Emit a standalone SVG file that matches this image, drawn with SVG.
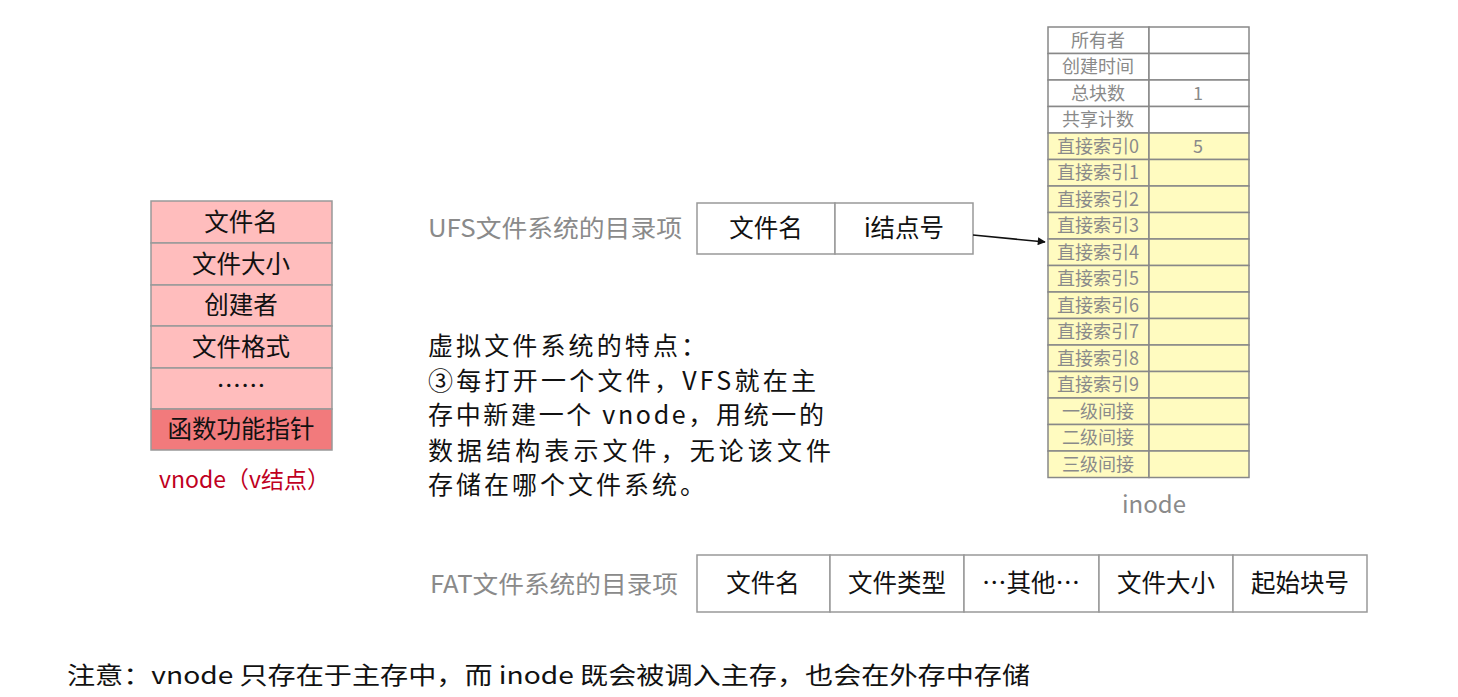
<svg xmlns="http://www.w3.org/2000/svg" width="1458" height="697" viewBox="0 0 1458 697">
<style>
.f{font-family:"Noto Sans CJK SC","Liberation Sans",sans-serif}
.v{fill:#ffbdbd;stroke:#999;stroke-width:1.5}
.vt{font-size:24.5px;fill:#111;text-anchor:middle}
.iw{fill:#fff;stroke:#888;stroke-width:1.5}
.iy{fill:#fffbc0;stroke:#888;stroke-width:1.5}
.it{font-size:18px;fill:#8a8a8a;text-anchor:middle}
.b{fill:#fff;stroke:#999;stroke-width:1.5}
.bt{font-size:24.5px;fill:#111;text-anchor:middle}
.lab{font-size:24px;fill:#8a8a8a}
.tx{font-size:25px;fill:#111}
</style>
<defs>
<marker id="ah" viewBox="0 0 10 10" refX="9" refY="5" markerWidth="10" markerHeight="8" markerUnits="userSpaceOnUse" orient="auto"><path d="M0,0L10,5L0,10z" fill="#111"/></marker>
</defs>
<rect width="1458" height="697" fill="#fff"/>
<g id="vnode" class="f">
<rect class="v" x="151" y="201" width="181" height="42"/>
<rect class="v" x="151" y="243" width="181" height="42"/>
<rect class="v" x="151" y="285" width="181" height="41"/>
<rect class="v" x="151" y="326" width="181" height="42"/>
<rect class="v" x="151" y="368" width="181" height="41"/>
<rect x="151" y="409" width="181" height="41" fill="#f27a7c" stroke="#999" stroke-width="1.5"/>
<text class="vt" x="241" y="231">文件名</text>
<text class="vt" x="241" y="273">文件大小</text>
<text class="vt" x="241" y="314">创建者</text>
<text class="vt" x="241" y="356">文件格式</text>
<text class="vt" x="241" y="395">……</text>
<text class="vt" x="241" y="438">函数功能指针</text>
<text x="159" y="488" font-size="23" fill="#c0001e" textLength="171" lengthAdjust="spacingAndGlyphs">vnode（v结点）</text>
</g>
<g id="inode" class="f">
<rect class="iw" x="1048" y="27" width="101" height="26.5"/><rect class="iw" x="1149" y="27" width="100" height="26.5"/>
<rect class="iw" x="1048" y="53.5" width="101" height="26.5"/><rect class="iw" x="1149" y="53.5" width="100" height="26.5"/>
<rect class="iw" x="1048" y="80" width="101" height="26.5"/><rect class="iw" x="1149" y="80" width="100" height="26.5"/>
<rect class="iw" x="1048" y="106.5" width="101" height="26.5"/><rect class="iw" x="1149" y="106.5" width="100" height="26.5"/>
<rect class="iy" x="1048" y="133" width="101" height="26.5"/><rect class="iy" x="1149" y="133" width="100" height="26.5"/>
<rect class="iy" x="1048" y="159.5" width="101" height="26.5"/><rect class="iy" x="1149" y="159.5" width="100" height="26.5"/>
<rect class="iy" x="1048" y="186" width="101" height="26.5"/><rect class="iy" x="1149" y="186" width="100" height="26.5"/>
<rect class="iy" x="1048" y="212.5" width="101" height="26.5"/><rect class="iy" x="1149" y="212.5" width="100" height="26.5"/>
<rect class="iy" x="1048" y="239" width="101" height="26.5"/><rect class="iy" x="1149" y="239" width="100" height="26.5"/>
<rect class="iy" x="1048" y="265.5" width="101" height="26.5"/><rect class="iy" x="1149" y="265.5" width="100" height="26.5"/>
<rect class="iy" x="1048" y="292" width="101" height="26.5"/><rect class="iy" x="1149" y="292" width="100" height="26.5"/>
<rect class="iy" x="1048" y="318.5" width="101" height="26.5"/><rect class="iy" x="1149" y="318.5" width="100" height="26.5"/>
<rect class="iy" x="1048" y="345" width="101" height="26.5"/><rect class="iy" x="1149" y="345" width="100" height="26.5"/>
<rect class="iy" x="1048" y="371.5" width="101" height="26.5"/><rect class="iy" x="1149" y="371.5" width="100" height="26.5"/>
<rect class="iy" x="1048" y="398" width="101" height="26.5"/><rect class="iy" x="1149" y="398" width="100" height="26.5"/>
<rect class="iy" x="1048" y="424.5" width="101" height="26.5"/><rect class="iy" x="1149" y="424.5" width="100" height="26.5"/>
<rect class="iy" x="1048" y="451" width="101" height="26.5"/><rect class="iy" x="1149" y="451" width="100" height="26.5"/>
<text class="it" x="1098" y="46.5">所有者</text>
<text class="it" x="1098" y="73">创建时间</text>
<text class="it" x="1098" y="99.5">总块数</text>
<text class="it" x="1198" y="99.5">1</text>
<text class="it" x="1098" y="126">共享计数</text>
<text class="it" x="1098" y="152.5">直接索引0</text>
<text class="it" x="1198" y="152.5">5</text>
<text class="it" x="1098" y="179">直接索引1</text>
<text class="it" x="1098" y="205.5">直接索引2</text>
<text class="it" x="1098" y="232">直接索引3</text>
<text class="it" x="1098" y="258.5">直接索引4</text>
<text class="it" x="1098" y="285">直接索引5</text>
<text class="it" x="1098" y="311.5">直接索引6</text>
<text class="it" x="1098" y="338">直接索引7</text>
<text class="it" x="1098" y="364.5">直接索引8</text>
<text class="it" x="1098" y="391">直接索引9</text>
<text class="it" x="1098" y="417.5">一级间接</text>
<text class="it" x="1098" y="444">二级间接</text>
<text class="it" x="1098" y="470.5">三级间接</text>
<text x="1154" y="513" font-size="24" fill="#8a8a8a" text-anchor="middle">inode</text>
</g>
<g id="ufs" class="f">
<text class="lab" x="428" y="237" textLength="254" lengthAdjust="spacingAndGlyphs">UFS文件系统的目录项</text>
<rect class="b" x="697" y="203" width="138" height="51"/>
<rect class="b" x="835" y="203" width="138" height="51"/>
<text class="bt" x="766" y="237">文件名</text>
<text class="bt" x="904" y="237">i结点号</text>
</g>
<g id="fat" class="f">
<text class="lab" x="430" y="593" textLength="248" lengthAdjust="spacingAndGlyphs">FAT文件系统的目录项</text>
<rect class="b" x="697" y="555" width="133" height="57"/>
<rect class="b" x="830" y="555" width="134" height="57"/>
<rect class="b" x="964" y="555" width="135" height="57"/>
<rect class="b" x="1099" y="555" width="134" height="57"/>
<rect class="b" x="1233" y="555" width="134" height="57"/>
<text class="bt" x="763" y="592">文件名</text>
<text class="bt" x="897" y="592">文件类型</text>
<text class="bt" x="1031" y="592">…其他…</text>
<text class="bt" x="1166" y="592">文件大小</text>
<text class="bt" x="1300" y="592">起始块号</text>
</g>
<g id="desc" class="f">
<text class="tx" x="428" y="355" textLength="278" lengthAdjust="spacing">虚拟文件系统的特点：</text>
<text class="tx" x="428" y="390" textLength="388" lengthAdjust="spacing">③每打开一个文件，VFS就在主</text>
<text class="tx" x="428" y="424" textLength="396" lengthAdjust="spacing">存中新建一个 vnode，用统一的</text>
<text class="tx" x="428" y="460" textLength="403" lengthAdjust="spacing">数据结构表示文件，无论该文件</text>
<text class="tx" x="428" y="494" textLength="277" lengthAdjust="spacing">存储在哪个文件系统。</text>
</g>
<g id="note" class="f">
<text x="67" y="684" font-size="24" fill="#111" textLength="963" lengthAdjust="spacingAndGlyphs">注意：vnode 只存在于主存中，而 inode 既会被调入主存，也会在外存中存储</text>
</g>
<g id="connectors">
<line x1="973" y1="235" x2="1045" y2="242" stroke="#111" stroke-width="1.5" marker-end="url(#ah)"/>
</g>
</svg>
